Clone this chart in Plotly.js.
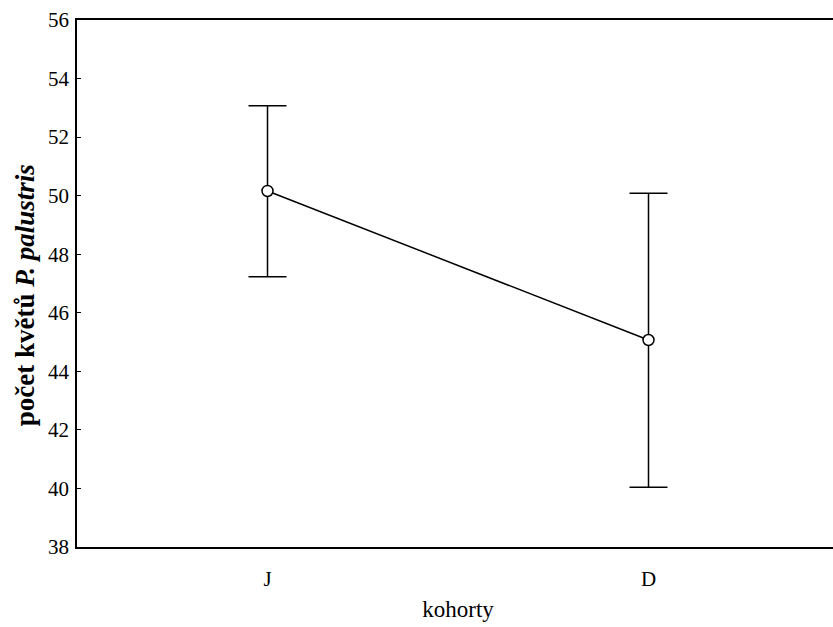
<!DOCTYPE html>
<html>
<head>
<meta charset="utf-8">
<script src="https://cdn.plot.ly/plotly-3.0.1.min.js"></script>
<style>
html,body{margin:0;padding:0;overflow:hidden;background:#fff;}
#chart{width:845px;height:627px;}
</style>
</head>
<body>
<div id="chart"></div>
<script>
const categories = ["J", "D"];
const means = [50.16, 45.07];
const upper = [53.07, 50.08];
const lower = [47.23, 40.04];
const yTicks = [38, 40, 42, 44, 46, 48, 50, 52, 54, 56];
const yTitle = "<b>počet květů <i>P. palustris</i></b>";
const xTitle = "kohorty";

const errPlus = means.map((m, i) => upper[i] - m);
const errMinus = means.map((m, i) => m - lower[i]);

const SERIF = "Liberation Serif";

const trace = {
  x: [0, 1],
  y: means,
  type: "scatter",
  mode: "lines+markers",
  line: {color: "#000", width: 1.5},
  marker: {symbol: "circle", size: 11, color: "#fff", line: {color: "#000", width: 1.5}},
  error_y: {
    type: "data", symmetric: false,
    array: errPlus, arrayminus: errMinus,
    color: "#000", thickness: 1.5, width: 19
  },
  hoverinfo: "none"
};

const layout = {
  width: 845, height: 627,
  margin: {l: 77, r: 6, t: 20, b: 80},
  paper_bgcolor: "#fff", plot_bgcolor: "#fff",
  showlegend: false,
  font: {family: SERIF, color: "#000", size: 21},
  xaxis: {
    range: [-0.5, 1.5],
    tickmode: "array",
    tickvals: [0, 1], ticktext: categories,
    showgrid: false, zeroline: false,
    showline: true, linecolor: "#000", linewidth: 1.7, mirror: true,
    ticks: "", ticklabelstandoff: 12,
    tickfont: {size: 21, family: SERIF, color: "#000"},
    title: {text: xTitle, font: {size: 23, family: SERIF, color: "#000"}, standoff: 11}
  },
  yaxis: {
    range: [38, 56],
    tickmode: "array",
    tickvals: yTicks, ticktext: yTicks.map(String),
    showgrid: false, zeroline: false,
    showline: true, linecolor: "#000", linewidth: 1.7, mirror: true,
    ticks: "inside", ticklen: 4, tickwidth: 1, tickcolor: "#000",
    ticklabelstandoff: 2,
    tickfont: {size: 21, family: SERIF, color: "#000"}
  },
  annotations: [{
    text: yTitle, textangle: -90,
    xref: "paper", yref: "paper", x: -0.068, y: 0.478,
    xanchor: "center", yanchor: "middle", showarrow: false,
    font: {size: 27, family: SERIF, color: "#000"}
  }]
};

Plotly.newPlot("chart", [trace], layout, {displayModeBar: false, staticPlot: true});
</script>
</body>
</html>
